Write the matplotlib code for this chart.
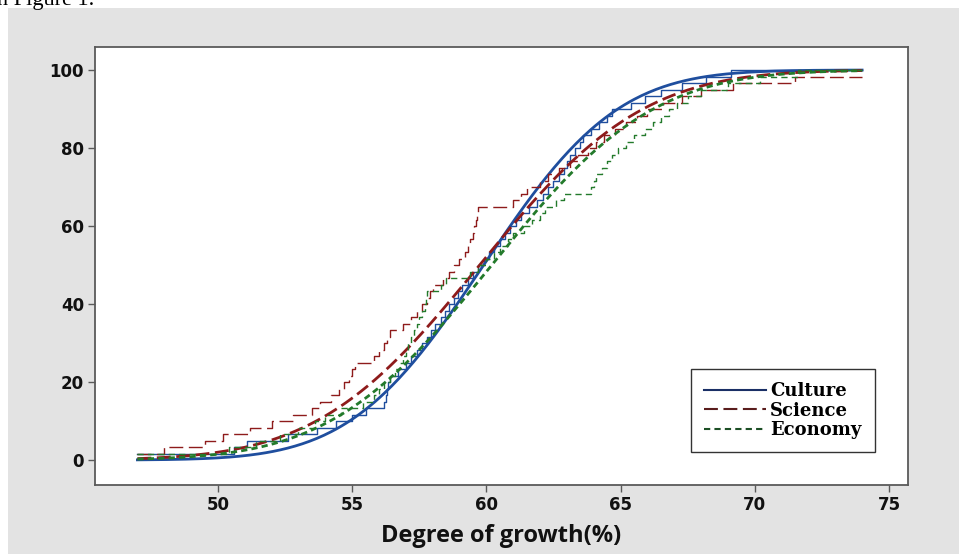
import math
import numpy as np
import matplotlib
matplotlib.use("Agg")
import matplotlib.pyplot as plt
from matplotlib.lines import Line2D

# sample values (degree of growth, %)
culture = [47.0, 50.6, 51.1, 52.6, 53.7, 54.4, 55.0, 55.5, 56.2, 56.25,
           56.3, 56.35, 56.4, 56.7, 57.0, 57.2, 57.4, 57.6, 57.8, 57.95,
           58.1, 58.3, 58.45, 58.6, 58.8, 58.95, 59.1, 59.3, 59.5, 59.7,
           59.9, 60.1, 60.3, 60.5, 60.7, 60.9, 61.1, 61.3, 61.6, 61.9,
           62.1, 62.3, 62.5, 62.7, 62.9, 63.0, 63.1, 63.3, 63.5, 63.6,
           63.9, 64.2, 64.5, 64.7, 65.4, 65.9, 66.5, 67.3, 68.2, 69.1]
science = [47.0, 48.0, 49.5, 50.2, 51.2, 52.0, 52.8, 53.5, 53.8, 54.2,
           54.5, 54.7, 54.9, 55.0, 55.1, 55.8, 56.0, 56.2, 56.3, 56.4,
           56.9, 57.2, 57.4, 57.6, 57.8, 57.9, 58.0, 58.4, 58.6, 58.8,
           59.0, 59.2, 59.3, 59.4, 59.5, 59.55, 59.6, 59.65, 59.7, 61.0,
           61.3, 61.5, 62.0, 62.3, 62.7, 63.1, 63.4, 63.8, 64.1, 64.4,
           64.8, 65.2, 65.6, 66.0, 66.6, 67.3, 68.0, 69.2, 71.5, 75.0]
economy = [47.0, 50.4, 51.4, 52.3, 53.0, 53.6, 54.0, 54.6, 55.4, 55.8,
           56.0, 56.2, 56.4, 56.6, 56.8, 56.9, 57.0, 57.1, 57.2, 57.3,
           57.4, 57.5, 57.6, 57.7, 57.75, 57.8, 58.3, 58.5, 59.4, 59.7,
           60.0, 60.3, 60.5, 60.8, 61.0, 61.4, 61.7, 62.0, 62.2, 62.6,
           62.9, 63.9, 64.0, 64.1, 64.3, 64.5, 64.7, 64.9, 65.2, 65.5,
           65.9, 66.2, 66.5, 66.8, 67.1, 67.5, 68.0, 69.0, 70.2, 71.6]

groups = ["Culture", "Science", "Economy"]
samples = [culture, science, economy]
# fitted normal curves, location and scale
fit_mean = [59.9, 59.75, 60.2]
fit_sd = [3.9, 4.75, 4.7]
x_range = (47.0, 74.0)
x_ticks = [50, 55, 60, 65, 70, 75]
y_ticks = [0, 20, 40, 60, 80, 100]

colors = ["#1f4e9e", "#8e1b1b", "#237a2b"]
legend_colors = ["#1a2f66", "#5a1d1d", "#1c4f25"]
dashes = [None, (10, 4), (4.5, 3)]

plt.rcParams['lines.scale_dashes'] = False


def norm_cdf(x, mu, sd):
    return np.array([0.5 * (1 + math.erf((v - mu) / (sd * math.sqrt(2)))) for v in x])


fig = plt.figure(figsize=(9.59, 5.54), dpi=100, facecolor="white")
# gray panel behind the chart (screenshot background)
bg = fig.add_axes([8 / 959, 0, 1 - 8 / 959, 1 - 8 / 554], zorder=-10)
bg.set_facecolor("#e3e3e3")
bg.set_axis_off()
bg.add_patch(plt.Rectangle((0, 0), 1, 1, transform=bg.transAxes,
                           facecolor="#e3e3e3", edgecolor="none"))
fig.text(-0.003, 1 - 5 / 554, "n Figure 1.", family="Liberation Serif", fontsize=16,
         va="baseline", ha="left", color="black")

ax = fig.add_axes([95 / 959, 1 - 485 / 554, 813 / 959, 438 / 554])
ax.set_facecolor("white")

handles = []
for vals, mu, sd, c, lc, d in zip(samples, fit_mean, fit_sd, colors, legend_colors, dashes):
    vals = np.sort(np.array(vals))
    n = len(vals)
    inside = vals[vals <= x_range[1]]
    ys = 100.0 * np.arange(1, len(inside) + 1) / n
    sx = np.append(inside, x_range[1])
    sy = np.append(ys, ys[-1])
    kw = {} if d is None else {"dashes": d}
    ax.step(sx, sy, where="post", color=c, lw=1.0, **kw)
    gx = np.linspace(x_range[0], x_range[1], 300)
    ax.plot(gx, 100 * norm_cdf(gx, mu, sd), color=c, lw=2.0, **kw)
    handles.append(Line2D([0], [0], color=lc, lw=1.5, **kw))

ax.set_xlim(45.42, 75.71)
ax.set_ylim(-6.4, 105.9)
ax.set_xticks(x_ticks)
ax.set_yticks(y_ticks)
for s in ax.spines.values():
    s.set_color("#5a5a5a")
    s.set_linewidth(1.3)
ax.tick_params(direction="out", length=5, width=1, color="#5a5a5a", pad=3)
for lab in ax.get_xticklabels() + ax.get_yticklabels():
    lab.set_family("DejaVu Sans")
    lab.set_fontsize(12)
    lab.set_fontweight("bold")
    lab.set_color("#111111")

ax.set_xlabel("Degree of growth(%)", family="Open Sans", fontsize=17,
              fontweight="bold", labelpad=7, color="#111111")

leg = ax.legend(handles, groups, loc="lower right", bbox_to_anchor=(0.959, 0.075),
                prop={"family": "DejaVu Serif", "weight": "bold", "size": 13},
                handlelength=3.4, handletextpad=0.25, labelspacing=0.08,
                borderpad=0.72, borderaxespad=0, fancybox=False, framealpha=1)
leg.get_frame().set_edgecolor("#333333")
leg.get_frame().set_linewidth(1.0)

fig.savefig("out.png", dpi=100, facecolor=fig.get_facecolor())
